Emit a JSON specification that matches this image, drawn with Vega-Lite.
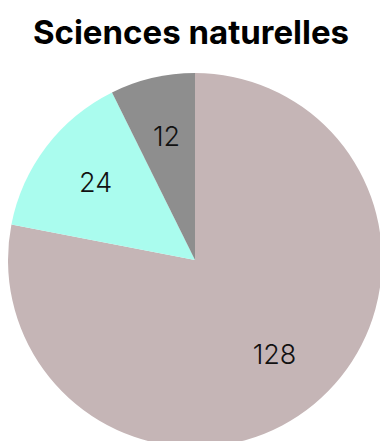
{
  "$schema": "https://vega.github.io/schema/vega-lite/v6.json",
  "width": 380,
  "height": 441,
  "autosize": {"type": "fit", "contains": "padding"},
  "padding": {"left": 10, "right": 0, "top": 24, "bottom": 0},
  "background": "white",
  "title": {
    "text": "Sciences naturelles",
    "fontSize": 33,
    "font": "Inter",
    "fontWeight": "bold",
    "color": "#000000",
    "anchor": "middle",
    "offset": 22,
    "dx": -4
  },
  "data": {
    "values": [
      {"category": "A", "value": 128, "order": 1},
      {"category": "B", "value": 24, "order": 2},
      {"category": "C", "value": 12, "order": 3}
    ]
  },
  "encoding": {
    "theta": {"field": "value", "type": "quantitative", "stack": true},
    "order": {"field": "order", "type": "quantitative"},
    "color": {
      "field": "category",
      "type": "nominal",
      "scale": {"domain": ["A", "B", "C"], "range": ["#c5b5b6", "#aafcee", "#8e8e8e"]},
      "legend": null
    }
  },
  "layer": [
    {"mark": {"type": "arc", "outerRadius": 187, "stroke": null}},
    {
      "mark": {"type": "text", "radius": 125, "fontSize": 27, "font": "Inter", "fontWeight": 300, "color": "#111111"},
      "encoding": {"text": {"field": "value", "type": "quantitative"}, "color": {"value": "#111111"}}
    }
  ],
  "config": {"view": {"stroke": null}}
}
